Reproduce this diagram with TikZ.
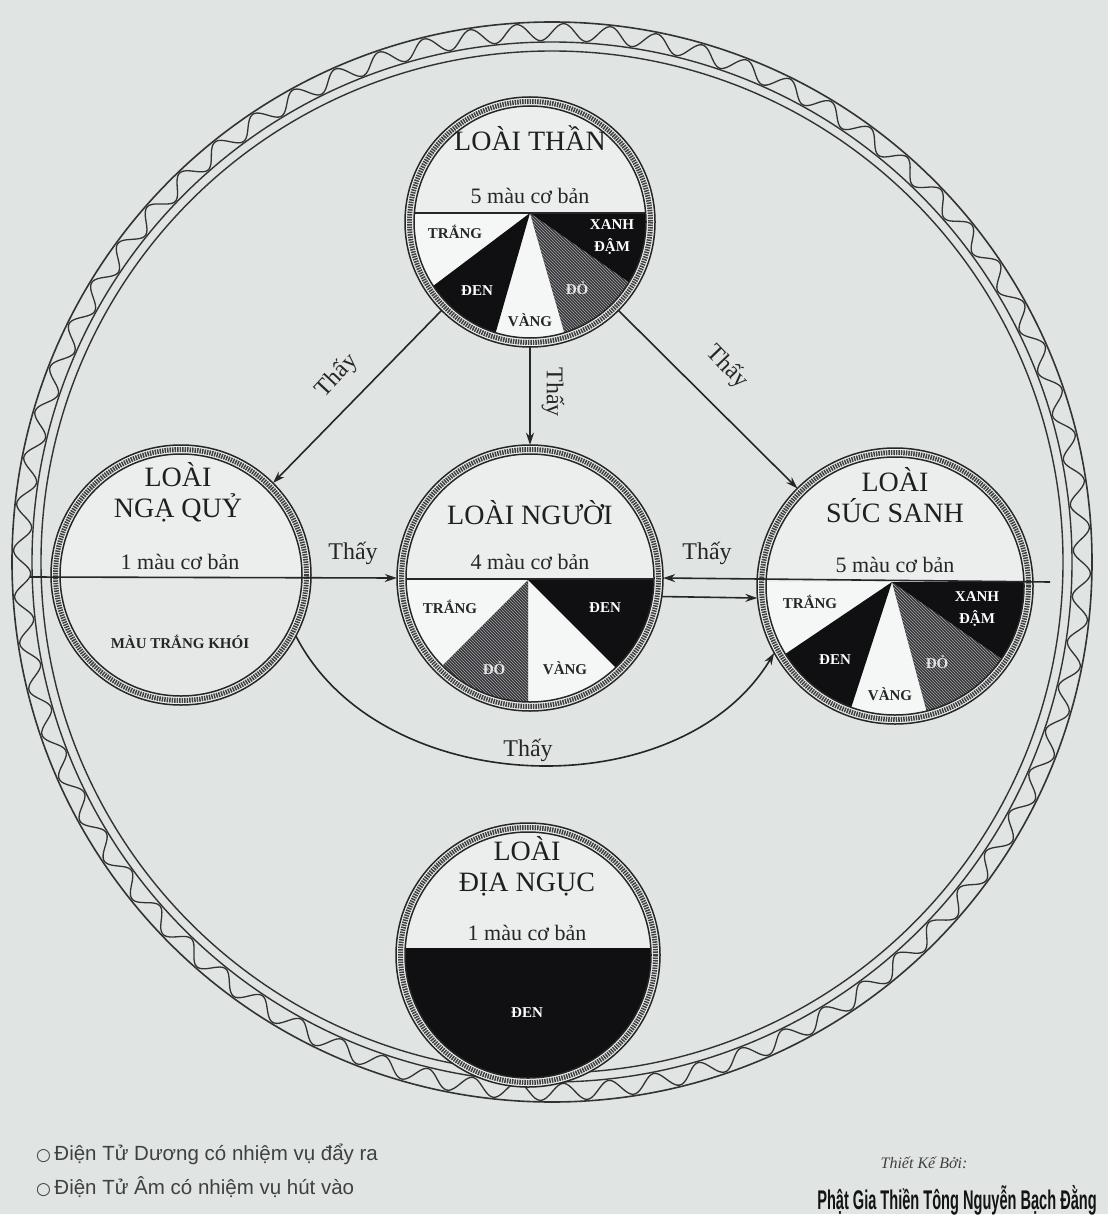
\documentclass[tikz,border=0pt]{standalone}
\usepackage{fontspec}
\setmainfont{Liberation Serif}
\newfontfamily\sansf{Liberation Sans}
\newfontfamily\dejavu{DejaVu Sans}
\usetikzlibrary{arrows.meta,patterns}
\definecolor{bgc}{RGB}{224,228,227}
\definecolor{inc}{RGB}{235,238,237}
\definecolor{whc}{RGB}{245,246,246}
\definecolor{smoke}{RGB}{229,232,231}
\definecolor{blk}{RGB}{16,16,18}
\definecolor{dkc}{RGB}{52,52,58}
\tikzset{
  title/.style={font=\fontsize{28}{31}\selectfont, align=center, text=black!88, inner sep=0pt},
  sub/.style={font=\fontsize{22}{24}\selectfont, text=black!85, inner sep=0pt},
  segb/.style={font=\bfseries\fontsize{15}{22}\selectfont, text=black!85, inner sep=0pt, align=center},
  segw/.style={segb, text=white},
  segg/.style={segb, text=black!10},
  thay/.style={font=\fontsize{24}{26}\selectfont, text=black!85, inner sep=0pt},
  conn/.style={line width=1.6pt, black!85, -{Stealth[length=12pt,width=8pt]}},
  chord/.style={line width=1.6pt, black!85},
  ringline/.style={line width=1.5pt, black!85},
  ropeband/.style={line width=5pt, black!75, dash pattern=on 1.5pt off 1pt},
  unit/.style={circle, inner sep=0pt, fill=inc},
  darkfill/.style={fill=blk},
  hatchfill/.style={fill=dkc, postaction={pattern=north west lines, pattern color=black!35}},
  note/.style={font=\sansf\fontsize{20.5}{23}\selectfont, text=black!75, anchor=west, inner sep=0pt}
}
\newcommand\ropering[2]{%
  \draw[ringline] (#1) circle[radius=#2];
  \draw[ringline] (#1) circle[radius={#2-9}];
  \draw[ropeband] (#1) circle[radius={#2-4.5}];
}
\begin{document}
\begin{tikzpicture}[x=1pt,y=-1pt]
\useasboundingbox (0,0) rectangle (1108,1230);
\fill[bgc] (0,0) rectangle (1108,1230);
\fill[white] (0,1214) rectangle (1108,1230);

% outer ring
\coordinate (ringc) at (552,562);
\draw[line width=1.6pt, black!80] (ringc) circle[radius=540];
\draw[line width=1.4pt, black!80] (ringc) circle[radius=520];
\draw[line width=1.4pt, black!80] (ringc) circle[radius=511];
\draw[line width=1.3pt, black!80] plot[domain=0:360, samples=1440] ({552+(530+8.5*sin(72*mod(\x,5)))*cos(\x)}, {562+(530+8.5*sin(72*mod(\x,5)))*sin(\x)});

% ===== LOAI THAN (top)
\node[unit, minimum size=250pt] (than) at (530,222) {};
\begin{scope}
  \clip (than.center) circle[radius=116];
  \fill[whc] (300,213) rectangle (760,360);
  \begin{scope}[shift={(530,213)}]
    \fill[darkfill] (0,0) -- (-217:300) -- (-254:300) -- cycle;
    \fill[hatchfill] (0,0) -- (-286:300) -- (-325:300) -- cycle;
    \fill[darkfill] (0,0) -- (-325:300) -- (-360:300) -- cycle;
  \end{scope}
  \draw[chord] (390,213) -- (670,213);
\end{scope}
\ropering{than.center}{125}
\node[title] (thanT) at (530,138) {LOÀI THẦN};
\node[sub] (thanS) at (530,196) {5 màu cơ bản};
\node[segb] (thanTr) at (455,232) {TRẮNG};
\node[segw] (thanXd) at (612,237) {XANH\\ĐẬM};
\node[segw] (thanDe) at (477,291) {ĐEN};
\node[segg] (thanDo) at (577,288) {ĐỎ};
\node[segb] (thanVa) at (530,320) {VÀNG};

% ===== LOAI NGA QUY (left)
\node[unit, minimum size=260pt] (ngaquy) at (181,575) {};
\begin{scope}
  \clip (ngaquy.center) circle[radius=121];
  \fill[smoke] (40,577) rectangle (330,720);
\end{scope}
\ropering{ngaquy.center}{130}
\node[title] (nqT) at (178,492) {LOÀI\\NGẠ QUỶ};
\node[sub] (nqS) at (180,562) {1 màu cơ bản};
\node[segb] (nqM) at (180,642) {MÀU TRẮNG KHÓI};

% ===== LOAI NGUOI (center)
\node[unit, minimum size=266pt] (nguoi) at (530,578) {};
\begin{scope}
  \clip (nguoi.center) circle[radius=124];
  \fill[whc] (380,580) rectangle (680,730);
  \begin{scope}[shift={(528,580)}]
    \fill[hatchfill] (0,0) -- (-225:300) -- (-270:300) -- cycle;
    \fill[darkfill] (0,0) -- (-315:300) -- (-360:300) -- cycle;
  \end{scope}
  \draw[chord] (380,579) -- (680,579);
\end{scope}
\ropering{nguoi.center}{133}
\node[title] (ngT) at (530,513) {LOÀI NGƯỜI};
\node[sub] (ngS) at (530,562) {4 màu cơ bản};
\node[segb] (ngTr) at (450,607) {TRẮNG};
\node[segw] (ngDe) at (605,608) {ĐEN};
\node[segg] (ngDo) at (494,668) {ĐỎ};
\node[segb] (ngVa) at (565,668) {VÀNG};

% ===== LOAI SUC SANH (right)
\node[unit, minimum size=276pt] (sucsanh) at (895,586) {};
\begin{scope}
  \clip (sucsanh.center) circle[radius=129];
  \fill[whc] (740,582) rectangle (1050,740);
  \begin{scope}[shift={(892,582)}]
    \fill[darkfill] (0,0) -- (-214:300) -- (-252:300) -- cycle;
    \fill[hatchfill] (0,0) -- (-285:300) -- (-325:300) -- cycle;
    \fill[darkfill] (0,0) -- (-325:300) -- (-360:300) -- cycle;
  \end{scope}
\end{scope}
\ropering{sucsanh.center}{138}
\node[title] (ssT) at (895,495) {LOÀI\\SÚC SANH};
\node[sub] (ssS) at (895,565) {5 màu cơ bản};
\node[segb] (ssTr) at (810,602) {TRẮNG};
\node[segw] (ssXd) at (977,609) {XANH\\ĐẬM};
\node[segw] (ssDe) at (835,660) {ĐEN};
\node[segg] (ssDo) at (937,662) {ĐỎ};
\node[segb] (ssVa) at (890,694) {VÀNG};

% ===== LOAI DIA NGUC (bottom)
\node[unit, minimum size=264pt] (dianguc) at (528,955) {};
\begin{scope}
  \clip (dianguc.center) circle[radius=123];
  \fill[blk] (380,948) rectangle (680,1100);
\end{scope}
\ropering{dianguc.center}{132}
\node[title] (dnT) at (527,866) {LOÀI\\ĐỊA NGỤC};
\node[sub] (dnS) at (527,933) {1 màu cơ bản};
\node[segw] (dnDe) at (527,1013) {ĐEN};

% ===== connectors
\coordinate (Lend) at (30,577);
\coordinate (Rend) at (1050,582);
\draw[conn] (than.225) -- (ngaquy.45);
\draw[conn] (than.south) -- (nguoi.north);
\draw[conn] (than.-45) -- (sucsanh.135);
\draw[conn] (Lend) -- (nguoi.180);
\draw[conn] (Rend) -- (nguoi.0);
\draw[conn] (nguoi.-8) -- (sucsanh.185);
\draw[conn] (ngaquy.-28) .. controls (380,800) and (680,810) .. (sucsanh.209);

\node[thay, rotate=47] (t1) at (337,376) {Thấy};
\node[thay, rotate=-90] (t2) at (553,392) {Thấy};
\node[thay, rotate=-46] (t3) at (727,367) {Thấy};
\node[thay] (t4) at (353,553) {Thấy};
\node[thay] (t5) at (707,553) {Thấy};
\node[thay] (t6) at (528,750) {Thấy};

% ===== notes
\node[note] (n1) at (36,1154) {{\dejavu\fontsize{17}{19}\selectfont ○}\,Điện Tử Dương có nhiệm vụ đẩy ra};
\node[note] (n2) at (36,1187) {{\dejavu\fontsize{17}{19}\selectfont ○}\,Điện Tử Âm có nhiệm vụ hút vào};
\node[font=\itshape\fontsize{16}{18}\selectfont, text=black!75, inner sep=0pt] (sig1) at (924,1163) {Thiết Kế Bởi:};
\node[font=\sansf\bfseries\fontsize{27}{29}\selectfont, text=black!92, inner sep=0pt] (sig2) at (957,1200) {\scalebox{0.54}[1]{Phật Gia Thiền Tông Nguyễn Bạch Đằng}};
\end{tikzpicture}
\end{document}
